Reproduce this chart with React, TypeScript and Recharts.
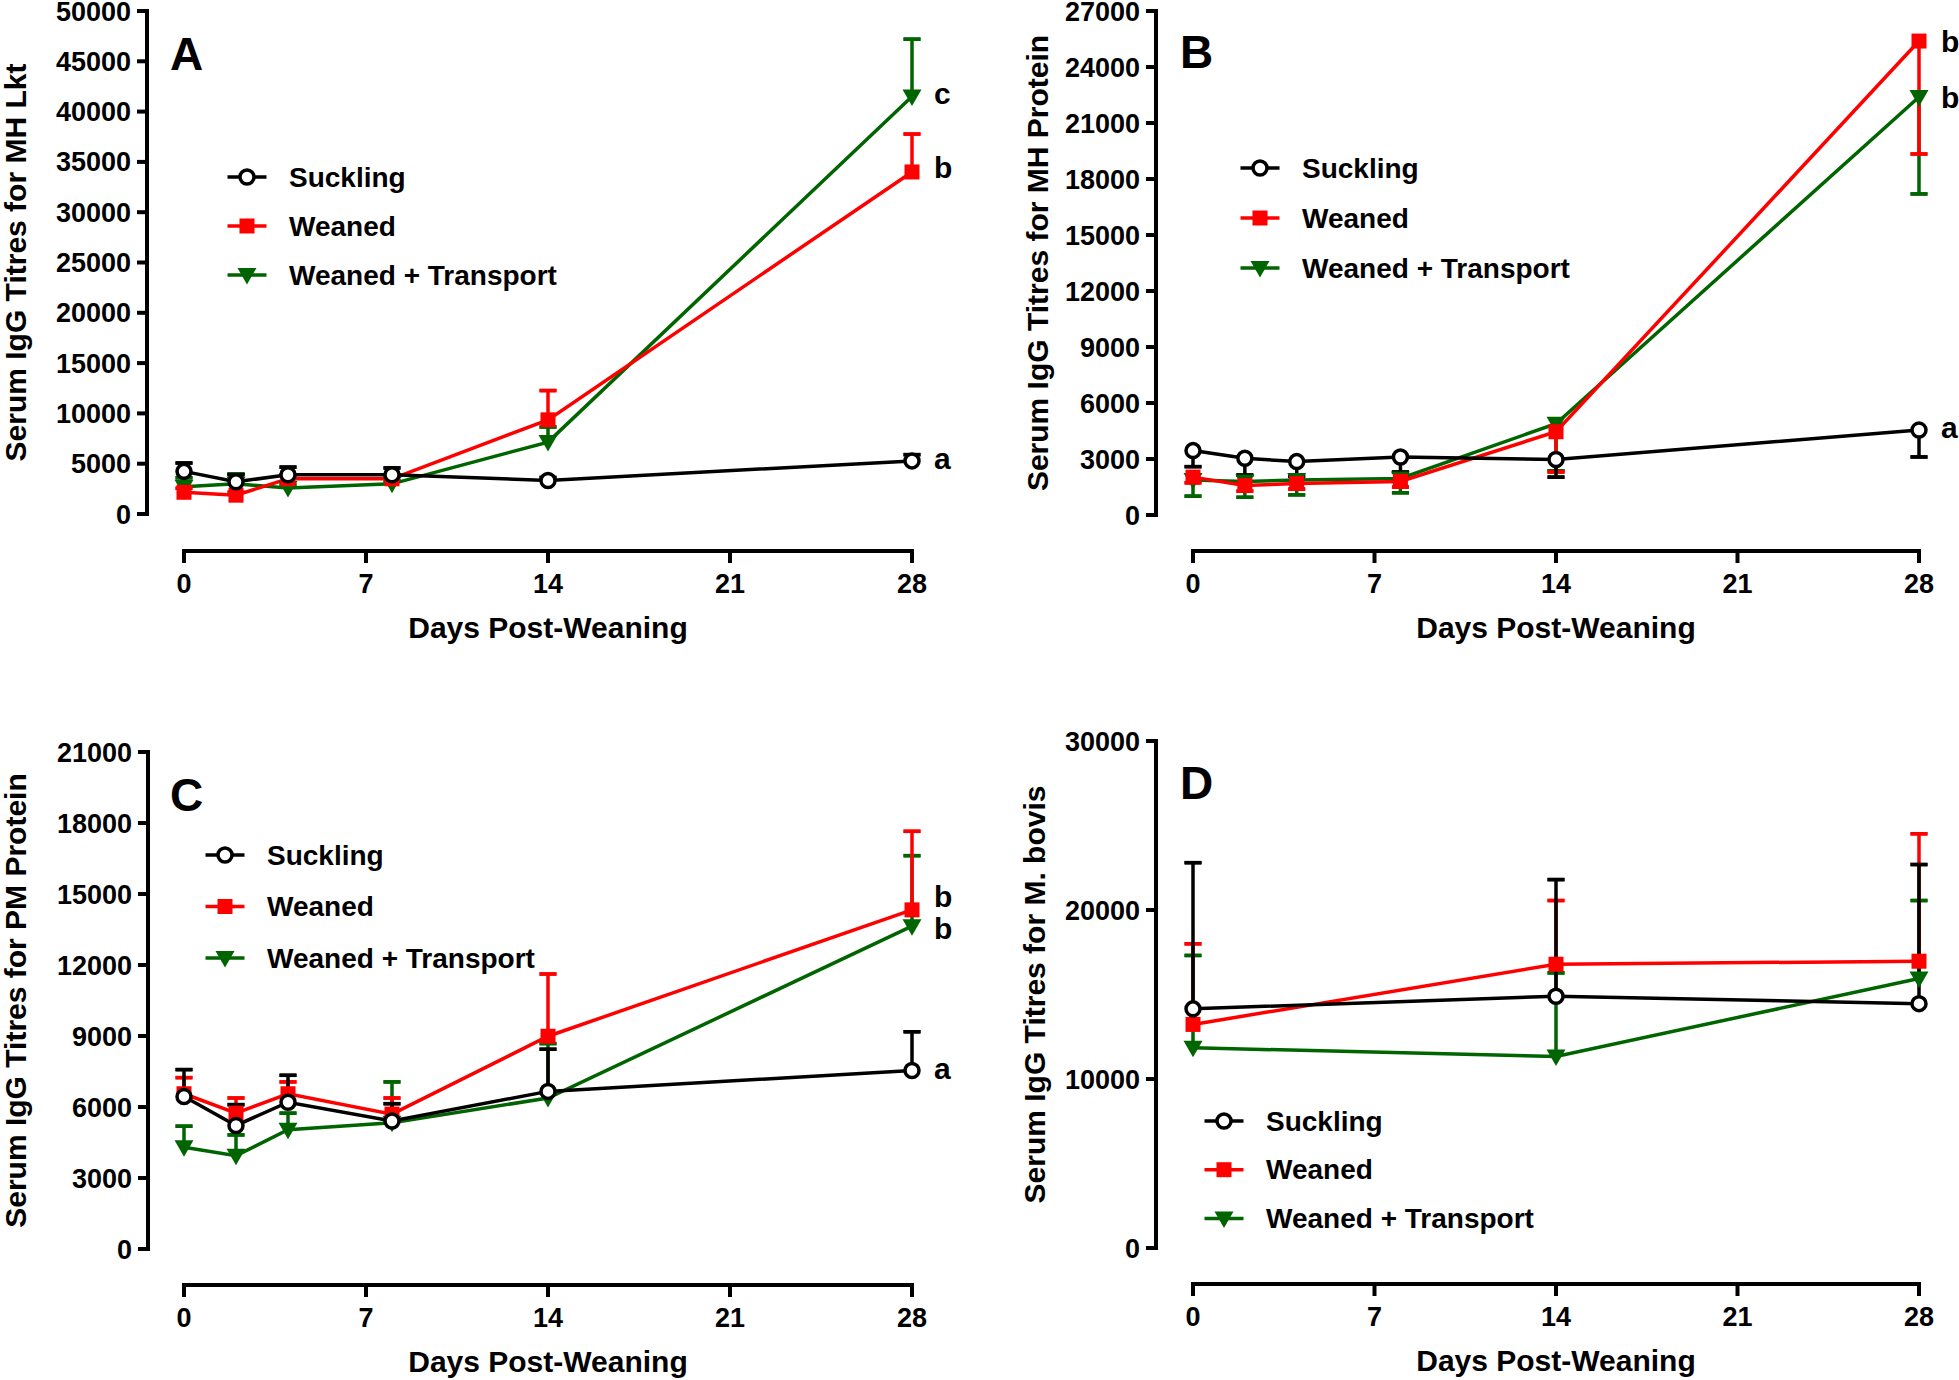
import React from 'react';
import { LineChart, Line, XAxis, YAxis, ErrorBar, ReferenceLine, Legend, LabelList } from 'recharts';

const FONT = '"Liberation Sans", Arial, Helvetica, sans-serif';
const BLACK = '#000000';
const RED = '#FF0000';
const GREEN = '#006400';

const X_TICKS = [0, 7, 14, 21, 28];
const X_TITLE = 'Days Post-Weaning';

// ---------- Panel A : MH Lkt ----------
const daysA = [0, 2, 4, 8, 14, 28];
const sucklingA = [4240, 3200, 3900, 3900, 3330, 5280];
const sucklingErrA = [830, 700, 760, 680, 300, 620];
const weanedA = [2160, 1870, 3500, 3500, 9360, 34000];
const weanedErrA = [400, 300, 400, 400, 2910, 3770];
const transportA = [2700, 3000, 2580, 3000, 7150, 41500];
const transportErrA = [900, 1000, 300, 300, 1500, 5700];
const yTicksA = [0, 5000, 10000, 15000, 20000, 25000, 30000, 35000, 40000, 45000, 50000];
const lettersA = ['a', 'b', 'c'];

// ---------- Panel B : MH Protein ----------
const daysB = [0, 2, 4, 8, 14, 28];
const sucklingB = [3450, 3040, 2860, 3110, 2975, 4550];
const sucklingErrB = [860, 900, 790, 810, 945, 1440];
const weanedB = [2030, 1580, 1690, 1800, 4460, 25390];
const weanedErrB = [300, 300, 300, 300, 2160, 6050];
const transportB = [1870, 1800, 1870, 1960, 4890, 22390];
const transportErrB = [860, 850, 790, 770, 2520, 5190];
const yTicksB = [0, 3000, 6000, 9000, 12000, 15000, 18000, 21000, 24000, 27000];
const lettersB = ['a', 'b', 'b'];

// ---------- Panel C : PM Protein ----------
const daysC = [0, 2, 4, 8, 14, 28];
const sucklingC = [6440, 5220, 6200, 5410, 6660, 7540];
const sucklingErrC = [1140, 880, 1140, 730, 1780, 1640];
const weanedC = [6560, 5740, 6560, 5700, 8990, 14330];
const weanedErrC = [680, 640, 500, 680, 2630, 3320];
const transportC = [4300, 3940, 5040, 5330, 6380, 13640];
const transportErrC = [890, 880, 700, 1730, 2300, 2980];
const yTicksC = [0, 3000, 6000, 9000, 12000, 15000, 18000, 21000];
const lettersC = ['a', 'b', 'b'];

// ---------- Panel D : M. bovis ----------
const daysD = [0, 14, 28];
const sucklingD = [14150, 14900, 14460];
const sucklingErrD = [8650, 6900, 8230];
const weanedD = [13230, 16790, 16970];
const weanedErrD = [4770, 3770, 7540];
const transportD = [11850, 11330, 15950];
const transportErrD = [5460, 4950, 4610];
const yTicksD = [0, 10000, 20000, 30000];

const SERIES_STYLE = [
  { key: 's', name: 'Suckling', color: BLACK, shape: 'circle' },
  { key: 'w', name: 'Weaned', color: RED, shape: 'square' },
  { key: 't', name: 'Weaned + Transport', color: GREEN, shape: 'triangle' },
];

function Marker({ shape, x, y }: { shape: string; x: number; y: number }) {
  if (shape === 'circle') return <circle cx={x} cy={y} r={7} fill="#ffffff" stroke={BLACK} strokeWidth={3.5} />;
  if (shape === 'square') return <rect x={x - 7.5} y={y - 7.5} width={15} height={15} fill={RED} />;
  return <polygon points={`${x - 9.5},${y - 7} ${x + 9.5},${y - 7} ${x},${y + 9.5}`} fill={GREEN} />;
}

const makeDot = (shape: string) => (props: any) => {
  if (props.cx == null || props.cy == null) return <g key={`${shape}-${props.index}`} />;
  return (
    <g key={`${shape}-${props.index}`}>
      <Marker shape={shape} x={props.cx} y={props.cy} />
    </g>
  );
};

function SigLetter(props: any) {
  const { sig, lastIdx, shiftY } = props;
  if (!sig || props.index !== lastIdx) return null;
  const vb = props.viewBox || {};
  const x = props.x ?? vb.x;
  const y = props.y ?? vb.y;
  if (x == null || y == null) return null;
  return (
    <text x={x + 22} y={y + shiftY} dominantBaseline="central" fontFamily={FONT} fontWeight="bold" fontSize={30} fill={BLACK}>
      {sig}
    </text>
  );
}

function LegendBox({ rowGap }: { rowGap: number }) {
  return (
    <svg width={430} height={170} style={{ display: 'block', overflow: 'visible' }}>
      {SERIES_STYLE.map((s, i) => {
        const cy = 25 + i * rowGap;
        return (
          <g key={s.key}>
            <line x1={0.5} x2={39.5} y1={cy} y2={cy} stroke={s.color} strokeWidth={3.5} />
            <Marker shape={s.shape} x={20} y={cy} />
            <text x={62} y={cy} dominantBaseline="central" fontFamily={FONT} fontWeight="bold" fontSize={28} fill={BLACK}>
              {s.name}
            </text>
          </g>
        );
      })}
    </svg>
  );
}

function AxisTexts({ yTitle, tx, ty, letter, lx, ly }: any) {
  return (
    <g>
      <text x={tx} y={ty} transform={`rotate(-90 ${tx} ${ty})`} textAnchor="middle" dominantBaseline="central" fontFamily={FONT} fontWeight="bold" fontSize={30} fill={BLACK}>
        {yTitle}
      </text>
      <text x={lx} y={ly} fontFamily={FONT} fontWeight="bold" fontSize={46} fill={BLACK}>
        {letter}
      </text>
    </g>
  );
}

function XTitle({ cx, cy }: any) {
  return (
    <text x={cx} y={cy} textAnchor="middle" dominantBaseline="central" fontFamily={FONT} fontWeight="bold" fontSize={30} fill={BLACK}>
      {X_TITLE}
    </text>
  );
}

type Geo = { left: number; top: number; width: number; height: number; yAxisX: number; x0: number; x28: number; yTop: number; y0: number; xAxisY: number };

type PanelDef = {
  id: string;
  geo: Geo;
  days: number[];
  values: number[][];
  errs: number[][];
  errUp: boolean;
  yTicks: number[];
  yTitle: string;
  yTitleX: number;
  letters: string[];
  letterShift: number[];
  panelLetter: string;
  panelLetterPos: [number, number];
  legend: { x: number; y: number; gap: number };
};

const PANELS: PanelDef[] = [
  {
    id: 'A',
    geo: { left: 0, top: 0, width: 980, height: 690, yAxisX: 147, x0: 184, x28: 912, yTop: 11, y0: 514, xAxisY: 551 },
    days: daysA,
    values: [sucklingA, weanedA, transportA],
    errs: [sucklingErrA, weanedErrA, transportErrA],
    errUp: true,
    yTicks: yTicksA,
    yTitle: 'Serum IgG Titres for MH Lkt',
    yTitleX: 15,
    letters: lettersA,
    letterShift: [-2, -4, -3],
    panelLetter: 'A',
    panelLetterPos: [170, 70],
    legend: { x: 227, y: 152, gap: 49 },
  },
  {
    id: 'B',
    geo: { left: 980, top: 0, width: 979, height: 690, yAxisX: 1156, x0: 1193, x28: 1919, yTop: 11, y0: 515, xAxisY: 551 },
    days: daysB,
    values: [sucklingB, weanedB, transportB],
    errs: [sucklingErrB, weanedErrB, transportErrB],
    errUp: false,
    yTicks: yTicksB,
    yTitle: 'Serum IgG Titres for MH Protein',
    yTitleX: 1037,
    letters: lettersB,
    letterShift: [-3, 0, 0],
    panelLetter: 'B',
    panelLetterPos: [1180, 68],
    legend: { x: 1240, y: 143, gap: 50 },
  },
  {
    id: 'C',
    geo: { left: 0, top: 690, width: 980, height: 690, yAxisX: 148, x0: 184, x28: 912, yTop: 752, y0: 1249, xAxisY: 1285 },
    days: daysC,
    values: [sucklingC, weanedC, transportC],
    errs: [sucklingErrC, weanedErrC, transportErrC],
    errUp: true,
    yTicks: yTicksC,
    yTitle: 'Serum IgG Titres for PM Protein',
    yTitleX: 15,
    letters: lettersC,
    letterShift: [-2, -13, 2],
    panelLetter: 'C',
    panelLetterPos: [170, 811],
    legend: { x: 205, y: 830, gap: 51.5 },
  },
  {
    id: 'D',
    geo: { left: 980, top: 690, width: 979, height: 690, yAxisX: 1156, x0: 1193, x28: 1919, yTop: 741, y0: 1248, xAxisY: 1284 },
    days: daysD,
    values: [sucklingD, weanedD, transportD],
    errs: [sucklingErrD, weanedErrD, transportErrD],
    errUp: true,
    yTicks: yTicksD,
    yTitle: 'Serum IgG Titres for M. bovis',
    yTitleX: 1034,
    letters: ['', '', ''],
    letterShift: [0, 0, 0],
    panelLetter: 'D',
    panelLetterPos: [1180, 799],
    legend: { x: 1204, y: 1096, gap: 48.7 },
  },
];

const X_AXIS_H = 90;
const tickStyle = { fill: BLACK, fontSize: 27, fontWeight: 'bold', fontFamily: FONT };
const axisStroke = { stroke: BLACK, strokeWidth: 4 };

function Panel(p: PanelDef) {
  const g = p.geo;
  const xMax = X_TICKS[X_TICKS.length - 1];
  const yMax = p.yTicks[p.yTicks.length - 1];
  // axis offsets (Prism-style detached axes)
  const xMin = -((g.x0 - g.yAxisX) / (g.x28 - g.x0)) * xMax;
  const yMin = -((g.xAxisY - g.y0) / (g.y0 - g.yTop)) * yMax;
  const margin = {
    top: g.yTop - g.top,
    right: g.left + g.width - g.x28,
    bottom: g.top + g.height - g.xAxisY - X_AXIS_H,
    left: 0,
  };
  const data = p.days.map((d, i) => {
    const row: any = { day: d };
    SERIES_STYLE.forEach((s, k) => {
      const e = p.errs[k][i];
      row[s.key] = p.values[k][i];
      row[s.key + 'Wh'] = p.errUp ? [0, e] : [e, 0];
      row[s.key + 'Cap'] = p.errUp ? [-e, e] : [e, -e];
    });
    return row;
  });
  const lastIdx = p.days.length - 1;
  const drawOrder = [2, 1, 0];

  return (
    <div style={{ position: 'absolute', left: g.left, top: g.top }}>
      <LineChart width={g.width} height={g.height} data={data} margin={margin}>
        <XAxis
          type="number"
          dataKey="day"
          domain={[xMin, xMax]}
          ticks={X_TICKS}
          interval={0}
          axisLine={false}
          tickLine={axisStroke}
          tickSize={12}
          tickMargin={11}
          height={X_AXIS_H}
          tick={tickStyle}
          label={<XTitle cx={(g.x0 + g.x28) / 2 - g.left} cy={g.xAxisY + 76 - g.top} />}
        />
        <YAxis
          type="number"
          domain={[yMin, yMax]}
          ticks={p.yTicks}
          interval={0}
          axisLine={false}
          tickLine={axisStroke}
          tickSize={10}
          tickMargin={6}
          width={g.yAxisX - g.left}
          tick={tickStyle}
          label={
            <AxisTexts
              yTitle={p.yTitle}
              tx={p.yTitleX - g.left}
              ty={(g.yTop + g.y0) / 2 - g.top}
              letter={p.panelLetter}
              lx={p.panelLetterPos[0] - g.left}
              ly={p.panelLetterPos[1] - g.top}
            />
          }
        />
        <ReferenceLine
          segment={[{ x: xMin, y: 0 }, { x: xMin, y: yMax }]}
          stroke={BLACK}
          strokeWidth={4}
          strokeLinecap="square"
          ifOverflow="visible"
        />
        <ReferenceLine
          segment={[{ x: 0, y: yMin }, { x: xMax, y: yMin }]}
          stroke={BLACK}
          strokeWidth={4}
          strokeLinecap="square"
          ifOverflow="visible"
        />
        <Legend
          layout="vertical"
          align="center"
          verticalAlign="middle"
          content={<LegendBox rowGap={p.legend.gap} />}
          wrapperStyle={{ left: p.legend.x - g.left, top: p.legend.y - g.top, width: 430, height: 170 }}
        />
        {drawOrder.map((k) => {
          const s = SERIES_STYLE[k];
          return (
            <Line
              key={s.key}
              dataKey={s.key}
              name={s.name}
              stroke={s.color}
              strokeWidth={3.5}
              isAnimationActive={false}
              dot={makeDot(s.shape)}
              activeDot={false}
            >
              <ErrorBar dataKey={s.key + 'Wh'} width={0} stroke={s.color} strokeWidth={3.5} direction="y" />
              <ErrorBar dataKey={s.key + 'Cap'} width={8.5} stroke={s.color} strokeWidth={3.5} direction="y" />
              <LabelList
                dataKey={s.key}
                content={<SigLetter sig={p.letters[k]} lastIdx={lastIdx} shiftY={p.letterShift[k]} />}
              />
            </Line>
          );
        })}
      </LineChart>
    </div>
  );
}

export default function App() {
  return (
    <div style={{ position: 'absolute', left: 0, top: 0, width: 1959, height: 1380, background: '#ffffff' }}>
      {PANELS.map((p) => (
        <Panel key={p.id} {...p} />
      ))}
    </div>
  );
}
